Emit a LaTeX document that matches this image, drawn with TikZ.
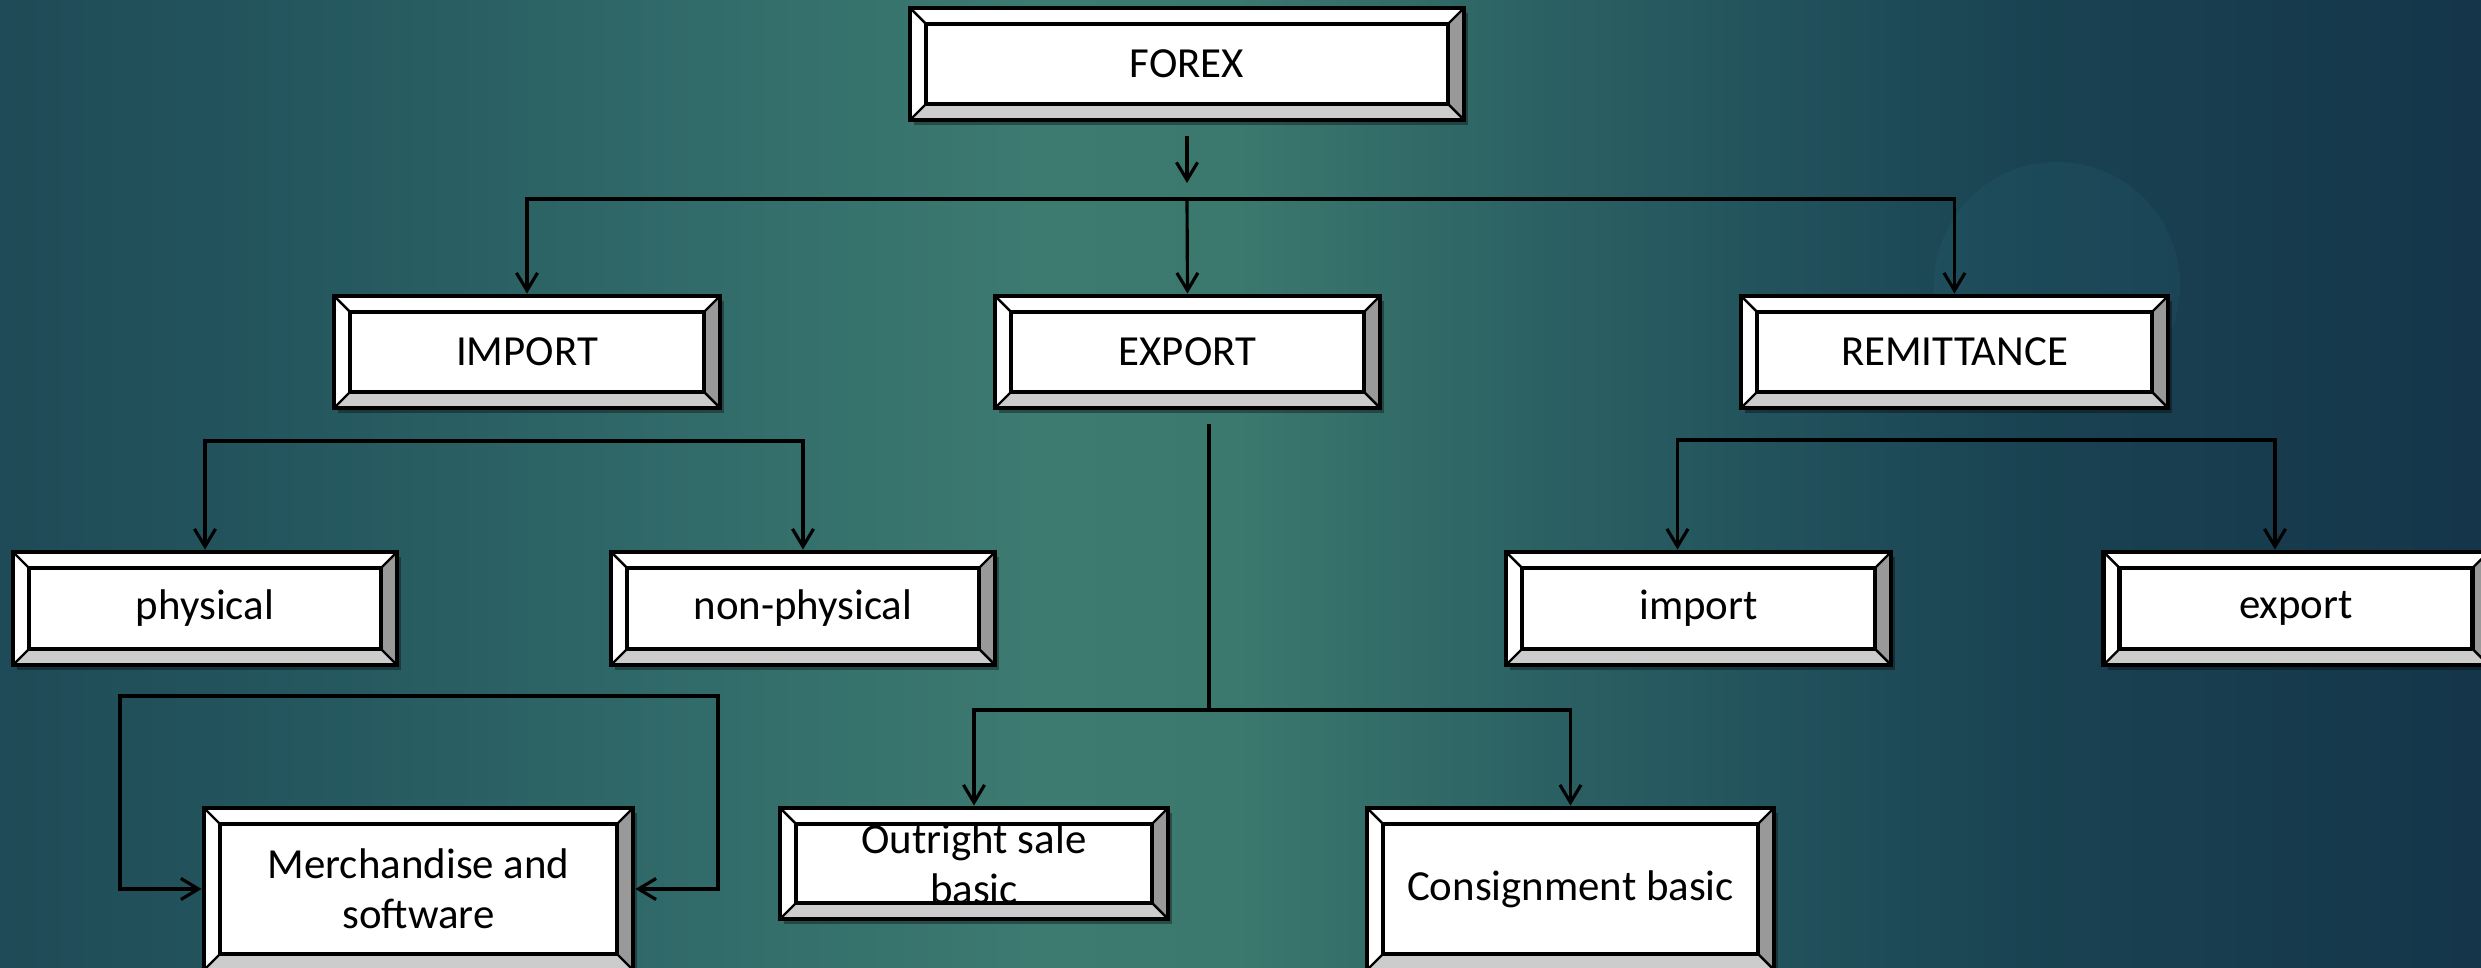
\documentclass[tikz,border=0pt]{standalone}
\usepackage{fontspec}
\setmainfont{Carlito}
\usepackage{tikz}
\usetikzlibrary{arrows.meta,calc,shadows}

\definecolor{bvright}{HTML}{999999}
\definecolor{bvbottom}{HTML}{CCCCCC}
\definecolor{circlecol}{HTML}{2E7386}
% the middle 50bp of a shading is fitted to the path
\pgfdeclarehorizontalshading{slidebg}{100bp}{%
  rgb(0bp)=(0.12,0.29,0.34); rgb(25bp)=(0.12,0.29,0.34); rgb(31bp)=(0.14,0.34,0.37);
  rgb(40bp)=(0.20,0.43,0.42); rgb(46bp)=(0.24,0.48,0.44); rgb(50bp)=(0.23,0.47,0.43);
  rgb(56bp)=(0.17,0.38,0.39); rgb(61bp)=(0.13,0.32,0.36); rgb(66bp)=(0.10,0.26,0.32);
  rgb(75bp)=(0.08,0.21,0.29); rgb(100bp)=(0.08,0.21,0.29)}
\newcommand\bvl{0.16}
\def\ppb{path picture bounding box}

\begin{document}
\begin{tikzpicture}[every node/.style={font=\fontsize{12.2}{14.2}\selectfont},
                    bevel/.style={draw=black, line width=1.4pt, fill=white, align=center, inner sep=0pt,
                      drop shadow={shadow xshift=0.04cm, shadow yshift=-0.05cm, fill=black, opacity=0.35},
                      path picture={
                        \fill[bvright] (\ppb.north east) -- (\ppb.south east) -- ([shift={(-\bvl,\bvl)}]\ppb.south east) -- ([shift={(-\bvl,-\bvl)}]\ppb.north east) -- cycle;
                        \fill[bvbottom] (\ppb.south west) -- (\ppb.south east) -- ([shift={(-\bvl,\bvl)}]\ppb.south east) -- ([shift={(\bvl,\bvl)}]\ppb.south west) -- cycle;
                        \draw[line width=1.3pt] ([shift={(\bvl,-\bvl)}]\ppb.north west) rectangle ([shift={(-\bvl,\bvl)}]\ppb.south east);
                        \draw[line width=0.7pt] (\ppb.north west) -- ++(\bvl,-\bvl) (\ppb.north east) -- ++(-\bvl,-\bvl)
                                                (\ppb.south east) -- ++(-\bvl,\bvl) (\ppb.south west) -- ++(\bvl,\bvl);
                      }},
                    link/.style={line width=0.9pt}, arrow/.style={link, -{Straight Barb[length=5pt,width=6pt]}}]

\useasboundingbox (0,0) rectangle (24.81,-9.68);

% Background
\fill[shading=slidebg] (0,0) rectangle (24.81,-9.68);
\fill[circlecol, opacity=0.15] (20.57,-2.85) circle (1.23);

% Top
\node[bevel, minimum width=5.54cm, minimum height=1.12cm] (forex) at (11.87,-0.64) {FOREX};

% First row
\node[bevel, minimum width=3.86cm, minimum height=1.12cm] (import) at (5.27,-3.52) {IMPORT};
\node[bevel, minimum width=3.85cm, minimum height=1.12cm] (export) at (11.875,-3.52) {EXPORT};
\node[bevel, minimum width=4.27cm, minimum height=1.12cm] (remit) at (19.545,-3.52) {REMITTANCE};

% Second row
\node[bevel, minimum width=3.84cm, minimum height=1.13cm] (physical) at (2.05,-6.085) {physical};
\node[bevel, minimum width=3.84cm, minimum height=1.13cm] (nonphys) at (8.03,-6.085) {non-physical};
\node[bevel, minimum width=3.85cm, minimum height=1.13cm] (rimport) at (16.985,-6.085) {import};
\node[bevel, minimum width=3.85cm, minimum height=1.13cm] (rexport) at (22.96,-6.085) {export};

% Third row
\node[bevel, minimum width=4.29cm, minimum height=1.62cm] (merch) at (4.185,-8.89) {Merchandise and\\software};
\node[bevel, minimum width=3.88cm, minimum height=1.11cm] (outright) at (9.74,-8.635) {Outright sale\\basic};
\node[bevel, minimum width=4.07cm, minimum height=1.62cm] (consign) at (15.705,-8.89) {Consignment basic};

% Split points
\coordinate (fxtap) at ([yshift=-0.14cm]forex.south);
\coordinate (fxend) at (11.87,-1.83);
\coordinate (bus) at (11.87,-1.99);
\coordinate (isplit) at (5.04,-4.41);
\coordinate (rsplit) at (19.76,-4.40);
\coordinate (extap) at (12.09,-4.24);
\coordinate (exsplit) at (12.09,-7.10);
\coordinate (loopl) at (1.20,-6.96);
\coordinate (loopr) at (7.18,-6.96);

% FOREX to first row
\draw[arrow] (fxtap) -- (fxend);
\draw[arrow] (bus) -| (import.north);
\draw[arrow] (bus) -- (export.north);
\draw[arrow] (bus) -| (remit.north);

% IMPORT
\draw[arrow] (isplit) -| (physical.north);
\draw[arrow] (isplit) -| (nonphys.north);
\draw[link, {Straight Barb[length=5pt,width=6pt]}-{Straight Barb[length=5pt,width=6pt]}]
    (merch.west) -| (loopl) -- (loopr) |- (merch.east);

% EXPORT
\draw[link] (extap) -- (exsplit);
\draw[arrow] (exsplit) -| (outright.north);
\draw[arrow] (exsplit) -| (consign.north);

% REMITTANCE
\draw[arrow] (rsplit) -| ([xshift=-0.21cm]rimport.north);
\draw[arrow] (rsplit) -| ([xshift=-0.21cm]rexport.north);

\end{tikzpicture}
\end{document}
